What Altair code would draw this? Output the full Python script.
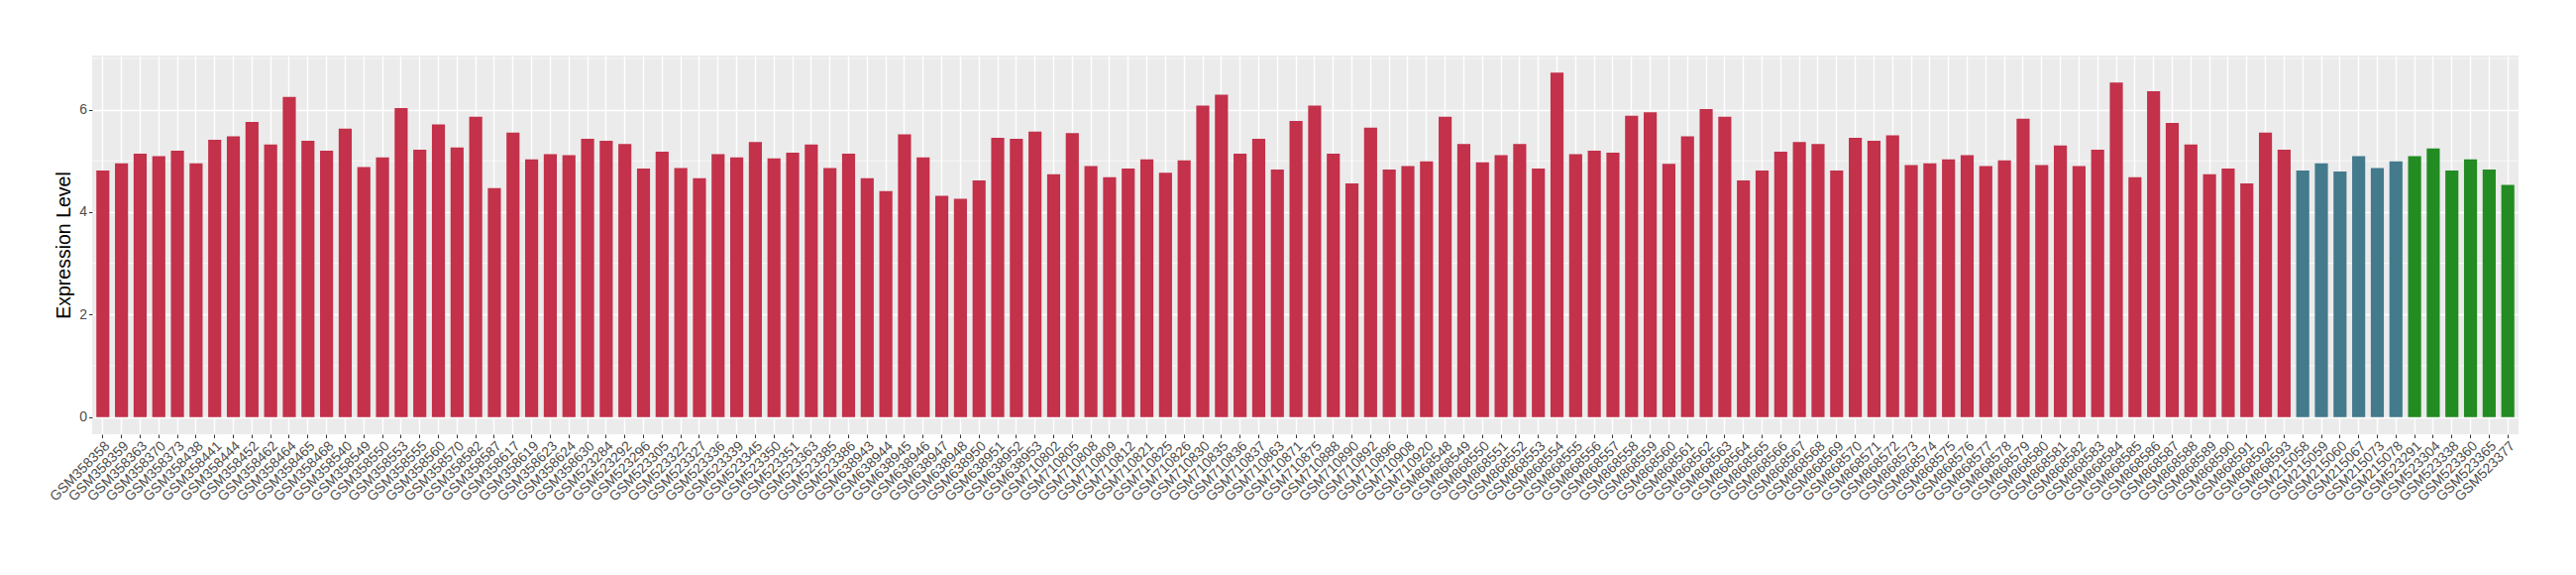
import altair as alt
import pandas as pd

# Group 1 (red)
samples_red = [
    "GSM358358", "GSM358359", "GSM358363", "GSM358370", "GSM358373", "GSM358438",
    "GSM358441", "GSM358444", "GSM358452", "GSM358462", "GSM358464", "GSM358465",
    "GSM358468", "GSM358540", "GSM358549", "GSM358550", "GSM358553", "GSM358555",
    "GSM358560", "GSM358570", "GSM358582", "GSM358587", "GSM358617", "GSM358619",
    "GSM358623", "GSM358624", "GSM358630", "GSM523284", "GSM523292", "GSM523296",
    "GSM523305", "GSM523322", "GSM523327", "GSM523336", "GSM523339", "GSM523345",
    "GSM523350", "GSM523351", "GSM523363", "GSM523385", "GSM523386", "GSM638943",
    "GSM638944", "GSM638945", "GSM638946", "GSM638947", "GSM638948", "GSM638950",
    "GSM638951", "GSM638952", "GSM638953", "GSM710802", "GSM710805", "GSM710808",
    "GSM710809", "GSM710812", "GSM710821", "GSM710825", "GSM710826", "GSM710830",
    "GSM710835", "GSM710836", "GSM710837", "GSM710863", "GSM710871", "GSM710875",
    "GSM710888", "GSM710890", "GSM710892", "GSM710896", "GSM710908", "GSM710920",
    "GSM868548", "GSM868549", "GSM868550", "GSM868551", "GSM868552", "GSM868553",
    "GSM868554", "GSM868555", "GSM868556", "GSM868557", "GSM868558", "GSM868559",
    "GSM868560", "GSM868561", "GSM868562", "GSM868563", "GSM868564", "GSM868565",
    "GSM868566", "GSM868567", "GSM868568", "GSM868569", "GSM868570", "GSM868571",
    "GSM868572", "GSM868573", "GSM868574", "GSM868575", "GSM868576", "GSM868577",
    "GSM868578", "GSM868579", "GSM868580", "GSM868581", "GSM868582", "GSM868583",
    "GSM868584", "GSM868585", "GSM868586", "GSM868587", "GSM868588", "GSM868589",
    "GSM868590", "GSM868591", "GSM868592", "GSM868593",
]
values_red = [
    4.81, 4.95, 5.14, 5.09, 5.20, 4.95, 5.41, 5.48, 5.76, 5.32, 6.25, 5.39,
    5.20, 5.63, 4.88, 5.07, 6.03, 5.22, 5.71, 5.26, 5.86, 4.47, 5.55, 5.03,
    5.13, 5.11, 5.43, 5.39, 5.33, 4.85, 5.18, 4.86, 4.66, 5.13, 5.07, 5.37,
    5.05, 5.16, 5.32, 4.86, 5.14, 4.66, 4.41, 5.52, 5.07, 4.32, 4.26, 4.62,
    5.45, 5.43, 5.57, 4.74, 5.54, 4.90, 4.68, 4.85, 5.03, 4.77, 5.01, 6.08,
    6.29, 5.14, 5.43, 4.83, 5.78, 6.08, 5.14, 4.56, 5.65, 4.83, 4.90, 4.99,
    5.86, 5.33, 4.97, 5.11, 5.33, 4.85, 6.72, 5.13, 5.20, 5.16, 5.88, 5.95,
    4.94, 5.48, 6.01, 5.86, 4.62, 4.81, 5.18, 5.37, 5.33, 4.81, 5.45, 5.39,
    5.50, 4.92, 4.95, 5.03, 5.11, 4.90, 5.01, 5.82, 4.92, 5.30, 4.90, 5.22,
    6.53, 4.68, 6.36, 5.74, 5.32, 4.74, 4.85, 4.56, 5.55, 5.22,
]

# Group 2 (blue)
samples_blue = ["GSM215058", "GSM215059", "GSM215060", "GSM215067", "GSM215073", "GSM215078"]
values_blue = [4.81, 4.95, 4.79, 5.09, 4.86, 4.99]

# Group 3 (green)
samples_green = ["GSM523291", "GSM523304", "GSM523338", "GSM523360", "GSM523365", "GSM523377"]
values_green = [5.09, 5.24, 4.81, 5.03, 4.83, 4.53]

group_names = ["A", "B", "C"]
group_colors = ["#C3314A", "#437A8C", "#228B22"]

y_ticks = [0, 2, 4, 6]
y_minor = [1, 3, 5, 7]

samples = samples_red + samples_blue + samples_green
values = values_red + values_blue + values_green
groups = (["A"] * len(samples_red) + ["B"] * len(samples_blue) + ["C"] * len(samples_green))
df = pd.DataFrame({"sample": samples, "value": values, "group": groups})
minor_df = pd.DataFrame({"v": y_minor})

W = 2449
H = 382
ymax = max(values)
ydom = [-0.05 * ymax, ymax * 1.05]

yscale = alt.Scale(domain=ydom, nice=False, zero=False)

minor = alt.Chart(minor_df).mark_rule(color="white", strokeWidth=0.7).encode(
    y=alt.Y("v:Q", scale=yscale),
    x=alt.value(0),
    x2=alt.value(W),
)

bars = alt.Chart(df).mark_bar().encode(
    x=alt.X(
        "sample:N",
        sort=samples,
        title=None,
        scale=alt.Scale(paddingInner=0.3, paddingOuter=0.225),
        axis=alt.Axis(
            labelAngle=-45,
            labelAlign="right",
            labelBaseline="top",
            labelFont="Liberation Sans",
            labelFontSize=14,
            labelColor="#4D4D4D",
            labelPadding=1,
            labelOverlap=False,
            tickColor="#333333",
            tickSize=3.5,
            tickWidth=1,
            domain=False,
            grid=True,
            gridColor="white",
            gridWidth=1.4,
            bandPosition=0.5,
        ),
    ),
    y=alt.Y(
        "value:Q",
        scale=yscale,
        title="Expression Level",
        axis=alt.Axis(
            values=y_ticks,
            labelFont="Liberation Sans",
            labelFontSize=14,
            labelColor="#4D4D4D",
            labelPadding=2,
            tickColor="#333333",
            tickSize=3.5,
            domain=False,
            grid=True,
            gridColor="white",
            gridWidth=1.4,
            titleFont="Liberation Sans",
            titleFontSize=19.5,
            titleFontWeight="normal",
            titleColor="black",
            titlePadding=5,
        ),
    ),
    color=alt.Color(
        "group:N",
        scale=alt.Scale(domain=group_names, range=group_colors),
        legend=None,
    ),
)

chart = alt.layer(minor, bars).properties(
    width=W,
    height=H,
    background="white",
    autosize=alt.AutoSizeParams(type="none"),
    padding={"left": 85, "top": 48, "right": 40, "bottom": 120},
).configure_view(
    fill="#EBEBEB",
    stroke="transparent",
    strokeWidth=0,
)

chart.save("out.html", embed_options={"renderer": "svg", "actions": False})
